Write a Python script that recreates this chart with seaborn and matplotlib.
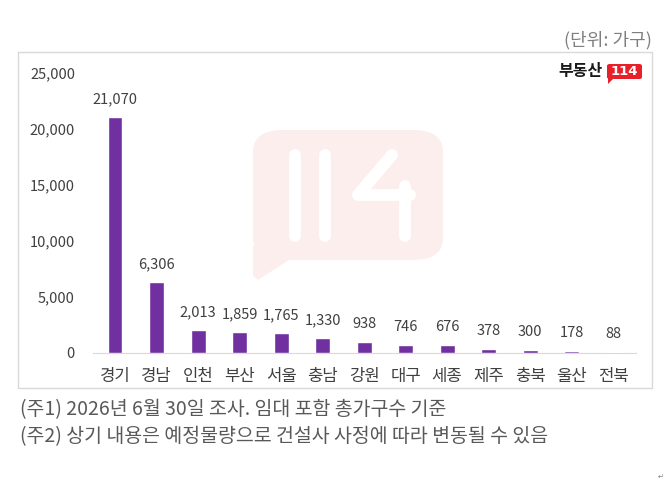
import pandas as pd
import matplotlib.pyplot as plt
import seaborn as sns
from matplotlib.patches import FancyBboxPatch, Polygon, Rectangle
from matplotlib.lines import Line2D

sns.set_style('white')
plt.rcParams['font.family'] = ['Noto Sans CJK KR', 'DejaVu Sans']
plt.rcParams['axes.unicode_minus'] = False

# 지역별 입주 예정 물량 (단위: 가구)
regions = ['경기', '경남', '인천', '부산', '서울', '충남', '강원', '대구', '세종', '제주', '충북', '울산', '전북']
units = [21070, 6306, 2013, 1859, 1765, 1330, 938, 746, 676, 378, 300, 178, 88]
yticks = [0, 5000, 10000, 15000, 20000, 25000]

df = pd.DataFrame({'지역': regions, '가구수': units})

W, H = 670, 486
def fx(x): return x / W
def fy(y): return 1 - y / H

fig = plt.figure(figsize=(6.7, 4.86), dpi=100)

# 차트 테두리
fig.patches.append(Rectangle((fx(18), fy(388)), 634/W, 336/H, transform=fig.transFigure,
                             fill=False, edgecolor='#d9d9d9', linewidth=1))

# 워터마크 (114 말풍선)
pink = '#fdeeee'
fig.patches.append(FancyBboxPatch((fx(253), fy(260)), 190/W, 130/H, transform=fig.transFigure,
                                  boxstyle='round,pad=0,rounding_size=0.045', facecolor=pink,
                                  edgecolor='none', zorder=0))
fig.patches.append(Polygon([(fx(253), fy(245)), (fx(292), fy(258)), (fx(258), fy(280)), (fx(253), fy(276))],
                           closed=True, transform=fig.transFigure, facecolor=pink,
                           edgecolor='none', zorder=0))
strokes = [
    ([295, 295], [155, 236]),
    ([325, 325], [155, 236]),
    ([392, 358, 410], [155, 195, 195]),
    ([405, 405], [186, 236]),
]
for xs, ys in strokes:
    fig.lines.append(Line2D([fx(v) for v in xs], [fy(v) for v in ys], transform=fig.transFigure,
                            color='white', linewidth=8.5, solid_capstyle='round',
                            solid_joinstyle='round', zorder=1))

ax = fig.add_axes([fx(93), fy(353), 543/W, 280/H])
ax.patch.set_alpha(0)
sns.barplot(data=df, x='지역', y='가구수', color='#7030a0', saturation=1, width=0.36, ax=ax, zorder=3)

for c in ax.containers:
    ax.bar_label(c, labels=[f'{v:,}' for v in units], padding=8, fontsize=10.5, color='#404040')

ax.set_ylim(0, 25000)
ax.set_xlim(-0.53, 12.55)
ax.set_yticks(yticks)
ax.set_yticklabels([f'{v:,}' for v in yticks])
ax.set_xlabel('')
ax.set_ylabel('')
ax.tick_params(axis='y', length=0, pad=13, labelsize=10.5, labelcolor='#404040')
ax.tick_params(axis='x', length=0, pad=11, labelsize=12, labelcolor='#404040')
for s in ['top', 'right', 'left']:
    ax.spines[s].set_visible(False)
ax.spines['bottom'].set_color('#d9d9d9')

# 단위, 로고
fig.text(fx(652), fy(40), '(단위: 가구)', ha='right', va='center', fontsize=13, color='#7f7f7f')
fig.text(fx(603), fy(71), '부동산', ha='right', va='center', fontsize=11.5, fontweight='bold', color='#1a1a1a')
fig.patches.append(FancyBboxPatch((fx(607), fy(79)), 35/W, 15/H, transform=fig.transFigure,
                                  boxstyle='round,pad=0,rounding_size=0.004', facecolor='#e8202a',
                                  edgecolor='none'))
fig.patches.append(Polygon([(fx(608), fy(78)), (fx(614), fy(78)), (fx(608), fy(84))], closed=True,
                           transform=fig.transFigure, facecolor='#e8202a', edgecolor='none'))
fig.text(fx(624.5), fy(71.5), '114', ha='center', va='center', fontsize=9.5, fontweight='bold',
         color='white', family='DejaVu Sans')

# 주석
fig.text(fx(20), fy(410), '(주1) 2026년 6월 30일 조사. 임대 포함 총가구수 기준', ha='left', va='center',
         fontsize=14, color='#595959')
fig.text(fx(20), fy(437), '(주2) 상기 내용은 예정물량으로 건설사 사정에 따라 변동될 수 있음', ha='left', va='center',
         fontsize=14, color='#595959')
fig.text(fx(661), fy(477), '↵', ha='center', va='center', fontsize=5, color='#7f7f7f', family='DejaVu Sans')

fig.savefig('out.png', dpi=100)
